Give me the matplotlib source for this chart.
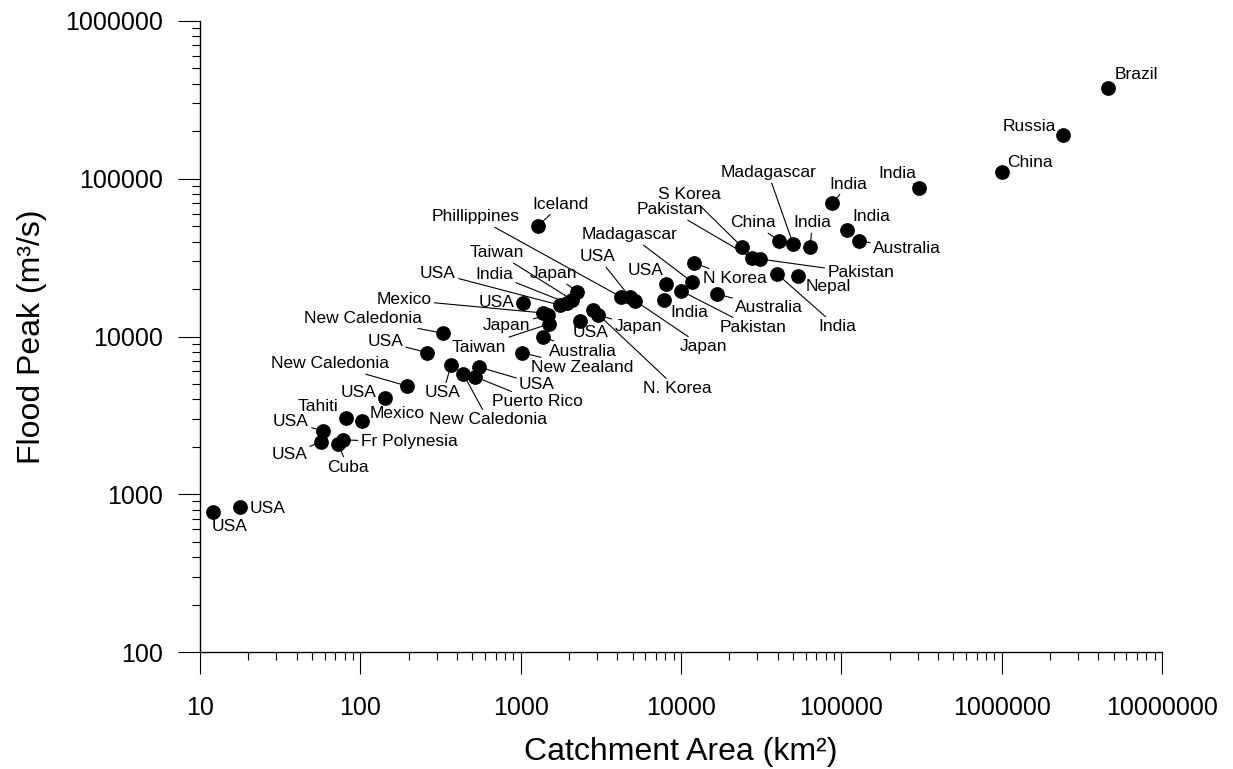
import matplotlib
matplotlib.use('Agg')
import matplotlib.pyplot as plt
import matplotlib.ticker as tkr

plt.rcParams['font.family'] = ['Liberation Sans', 'DejaVu Sans']

# river / country names for each flood
names = ['Brazil', 'Russia', 'China', 'India', 'India', 'India', 'Australia', 'India',
         'Madagascar', 'China', 'S Korea', 'Pakistan', 'Pakistan', 'India', 'Nepal',
         'N Korea', 'Madagascar', 'USA', 'Pakistan', 'Australia', 'India', 'Phillippines',
         'USA', 'Japan', 'N. Korea', 'Japan', 'USA', 'Japan', 'Taiwan', 'India', 'USA',
         'Iceland', 'USA', 'Mexico', 'Japan', 'Taiwan', 'Australia', 'New Zealand',
         'New Caledonia', 'USA', 'USA', 'New Caledonia', 'USA', 'Puerto Rico',
         'New Caledonia', 'USA', 'Tahiti', 'Mexico', 'USA', 'USA', 'Fr Polynesia', 'Cuba',
         'USA', 'USA']

# catchment area (km2)
area = [4.6e6, 2.42e6, 1.0e6, 3.06e5, 8.8e4, 1.09e5, 1.29e5, 6.4e4,
        5.0e4, 4.1e4, 2.4e4, 2.78e4, 3.1e4, 3.98e4, 5.4e4,
        1.21e4, 1.17e4, 8.1e3, 1.0e4, 1.68e4, 7.85e3, 4.23e3,
        4.8e3, 5.2e3, 2.83e3, 3.04e3, 2.35e3, 2.25e3, 2.09e3, 1.95e3, 1.76e3,
        1.28e3, 1.035e3, 1.38e3, 1.48e3, 1.5e3, 1.38e3, 1.02e3,
        328, 261, 368, 438, 550, 520,
        195, 143, 81.5, 102, 58.5, 57, 78, 72.6,
        17.8, 12.1]

# flood peak (m3/s)
peak = [3.77e5, 1.9e5, 1.11e5, 8.8e4, 7.0e4, 4.74e4, 4.04e4, 3.7e4,
        3.87e4, 4.04e4, 3.7e4, 3.15e4, 3.1e4, 2.49e4, 2.42e4,
        2.93e4, 2.22e4, 2.16e4, 1.95e4, 1.86e4, 1.71e4, 1.78e4,
        1.78e4, 1.68e4, 1.48e4, 1.37e4, 1.26e4, 1.92e4, 1.71e4, 1.63e4, 1.58e4,
        5.0e4, 1.63e4, 1.41e4, 1.37e4, 1.2e4, 9.9e3, 7.9e3,
        1.05e4, 7.9e3, 6.6e3, 5.8e3, 6.4e3, 5.55e3,
        4.86e3, 4.08e3, 3.05e3, 2.92e3, 2.52e3, 2.15e3, 2.21e3, 2.08e3,
        830, 773]

# where each label sits relative to its dot (pixels, right / down)
label_offsets = [(28, -13), (-34, -8), (28, -9), (-22, -14), (16, -19), (24, -13), (48, 8), (2, -24),
                 (-25, -71), (-26, -18), (-53, -52), (-82, -48), (101, 14), (60, 53), (30, 11),
                 (41, 16), (-62, -47), (-21, -13), (72, 37), (52, 14), (25, 13), (-145, -80),
                 (-32, -40), (68, 46), (84, 79), (40, 12), (10, 12), (-24, -18), (-75, -47), (-73, -29), (-122, -32),
                 (23, -22), (-26, -1), (-139, -13), (-41, 11), (-70, 23), (40, 14), (60, 15),
                 (-80, -15), (-42, -11), (-8, 28), (25, 46), (58, 17), (62, 25),
                 (-77, -22), (-27, -5), (-28, -11), (35, -7), (-32, -9), (-32, 13), (66, 2), (10, 23),
                 (27, 1), (16, 15)]

fig = plt.figure(figsize=(12.33, 7.69), dpi=100)
ax = fig.add_axes([200 / 1233, 117 / 769, 962 / 1233, 631 / 769])

ax.plot(area, peak, 'o', color='black', markersize=9.6, zorder=5, clip_on=False)

for name, x, y, (dx, dy) in zip(names, area, peak, label_offsets):
    ax.annotate(name, xy=(x, y), xytext=(dx * 0.72, -dy * 0.72), textcoords='offset points',
                ha='center', va='center', fontsize=12.5, zorder=4,
                arrowprops=dict(arrowstyle='-', color='black', lw=0.8, shrinkA=0, shrinkB=0))

ax.set_xscale('log')
ax.set_yscale('log')
ax.set_xlim(10, 1e7)
ax.set_ylim(100, 1e6)

# plain numbers on the ticks
def plain(v, pos):
    return '%d' % round(v)

ax.xaxis.set_major_locator(tkr.LogLocator(base=10, numticks=20))
ax.yaxis.set_major_locator(tkr.LogLocator(base=10, numticks=20))
ax.xaxis.set_minor_locator(tkr.LogLocator(base=10, subs=range(2, 10), numticks=20))
ax.yaxis.set_minor_locator(tkr.LogLocator(base=10, subs=range(2, 10), numticks=20))
ax.xaxis.set_major_formatter(tkr.FuncFormatter(plain))
ax.yaxis.set_major_formatter(tkr.FuncFormatter(plain))
ax.xaxis.set_minor_formatter(tkr.NullFormatter())
ax.yaxis.set_minor_formatter(tkr.NullFormatter())

ax.spines['top'].set_visible(False)
ax.spines['right'].set_visible(False)
ax.spines['left'].set_linewidth(1.0)
ax.spines['bottom'].set_linewidth(1.0)

ax.tick_params(axis='both', which='major', direction='out', length=15.8, width=0.8, labelsize=18)
ax.tick_params(axis='both', which='minor', direction='out', length=5.8, width=0.8)
ax.tick_params(axis='x', which='major', pad=16)
ax.tick_params(axis='y', which='major', pad=11)

ax.set_xlabel('Catchment Area (km²)', fontsize=23, labelpad=12)
ax.set_ylabel('Flood Peak (m³/s)', fontsize=23, labelpad=13)

fig.savefig('out.png', dpi=100)
